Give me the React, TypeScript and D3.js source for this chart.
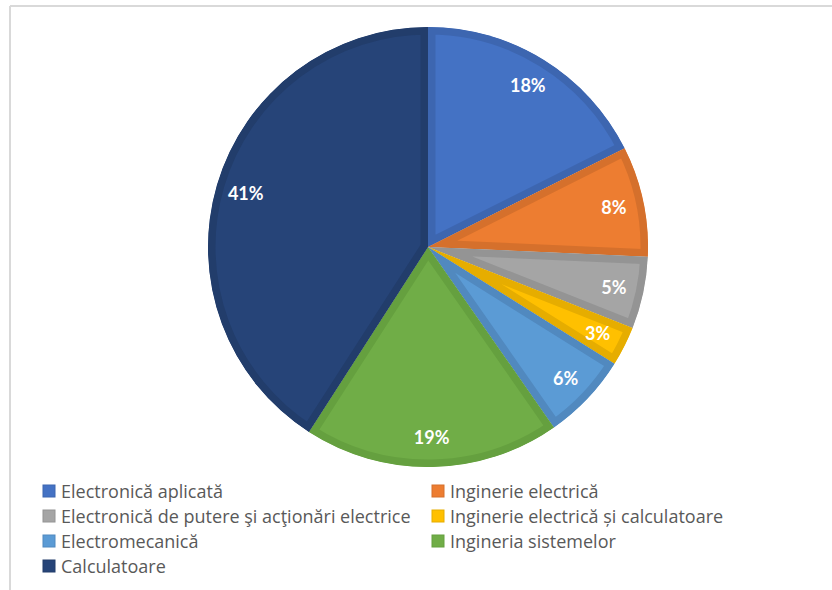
import React from "react";
import * as d3 from "d3";

const categories = [
  "Electronică aplicată",
  "Inginerie electrică",
  "Electronică de putere şi acţionări electrice",
  "Inginerie electrică și calculatoare",
  "Electromecanică",
  "Ingineria sistemelor",
  "Calculatoare",
];
const values = [17.6, 8.1, 5.3, 2.9, 6.4, 18.8, 40.9];
const fills = ["#4472C4", "#ED7D31", "#A5A5A5", "#FFC000", "#5B9BD5", "#70AD47", "#264478"];
const borders = ["#3D66B0", "#D5702C", "#949494", "#E6AD00", "#5189BF", "#65A03F", "#223D6B"];

const W = 832;
const H = 590;
const cx = 428;
const cy = 247;
const R = 220;
const labelR = 190;

export default function App() {
  const total = d3.sum(values);
  const pie = d3.pie<number>().sort(null).value((d) => d);
  const arcs = pie(values);
  const arc = d3.arc<d3.PieArcDatum<number>>().innerRadius(0).outerRadius(R);
  const labelArc = d3.arc<d3.PieArcDatum<number>>().innerRadius(labelR).outerRadius(labelR);

  const colX = [43, 432];
  const rowY0 = 491;
  const rowStep = 25;
  const sw = 12;

  return (
    <div style={{ position: "absolute", left: 0, top: 0 }}>
      <svg width={W} height={H} style={{ display: "block", background: "#fff" }}>
        <rect x={0} y={0} width={W} height={H} fill="#fff" />
        <line x1={10} y1={6} x2={W} y2={6} stroke="#d9d9d9" strokeWidth={2} />
        <line x1={10} y1={6} x2={10} y2={H} stroke="#d9d9d9" strokeWidth={2} />
        <defs>
          {arcs.map((a, i) => (
            <clipPath id={`clip-${i}`} key={i}>
              <path d={arc(a) || ""} transform={`translate(${cx},${cy})`} />
            </clipPath>
          ))}
        </defs>
        {arcs.map((a, i) => (
          <g key={i} clipPath={`url(#clip-${i})`}>
            <path
              d={arc(a) || ""}
              transform={`translate(${cx},${cy})`}
              fill={fills[i]}
              stroke={borders[i]}
              strokeWidth={15}
              strokeLinejoin="miter"
            />
          </g>
        ))}
        {arcs.map((a, i) => {
          const [x, y] = labelArc.centroid(a);
          return (
            <text
              key={i}
              x={cx + x}
              y={cy + y}
              textAnchor="middle"
              dominantBaseline="central"
              fill="#ffffff"
              fontFamily="Lato, 'Open Sans', sans-serif"
              fontWeight="bold"
              fontSize={18}
            >
              {`${Math.round((values[i] / total) * 100)}%`}
            </text>
          );
        })}
        {categories.map((c, i) => {
          const col = i % 2;
          const row = Math.floor(i / 2);
          const x = colX[col];
          const y = rowY0 + row * rowStep;
          return (
            <g key={c}>
              <rect
                x={x}
                y={y - sw / 2}
                width={sw}
                height={sw}
                fill={fills[i]}
                stroke={borders[i]}
                strokeWidth={1}
              />
              <text
                x={x + sw + 6}
                y={y}
                dominantBaseline="central"
                fill="#595959"
                fontFamily="'Open Sans', Lato, sans-serif"
                fontSize={18}
              >
                {c}
              </text>
            </g>
          );
        })}
      </svg>
    </div>
  );
}
